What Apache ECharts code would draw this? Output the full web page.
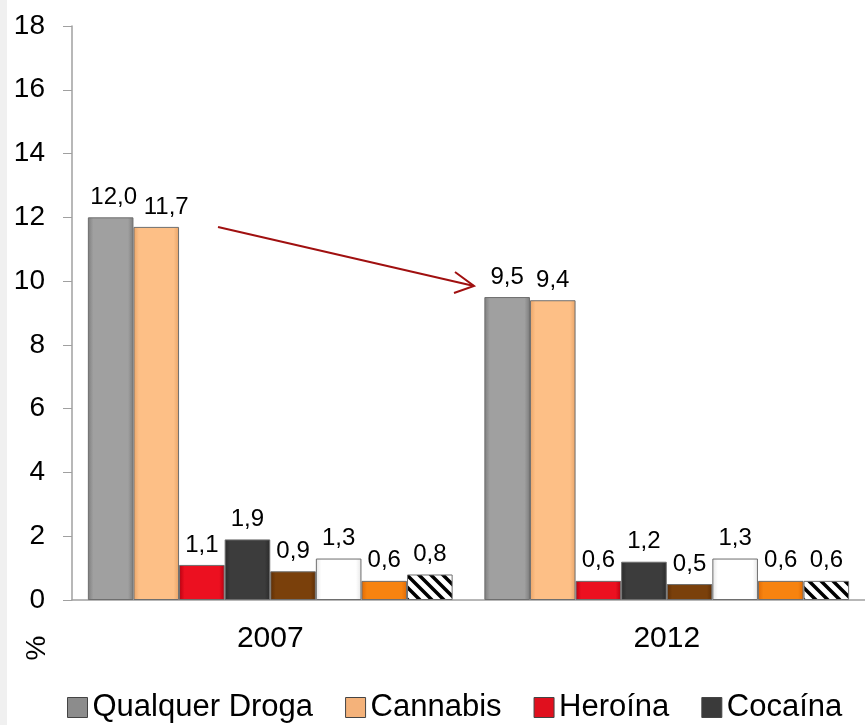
<!DOCTYPE html>
<html>
<head>
<meta charset="utf-8">
<script src="https://cdn.jsdelivr.net/npm/echarts@6/dist/echarts.min.js"></script>
<style>
  html, body { margin: 0; padding: 0; background: #fff; }
  #chart { width: 865px; height: 725px; }
</style>
</head>
<body>
<div id="chart"></div>
<script>
// categorias e valores (%)
var anos = ['2007', '2012'];
var seriesNames = ['Qualquer Droga', 'Cannabis', 'Heroína', 'Cocaína', 'Série 5', 'Série 6', 'Série 7', 'Série 8'];
var qualquerDroga = [12.0, 9.5];
var cannabis = [11.7, 9.4];
var heroina = [1.1, 0.6];
var cocaina = [1.9, 1.2];
var serie5 = [0.9, 0.5];
var serie6 = [1.3, 1.3];
var serie7 = [0.6, 0.6];
var serie8 = [0.8, 0.6];
var yTicks = [0, 2, 4, 6, 8, 10, 12, 14, 16, 18];

var valores = [qualquerDroga, cannabis, heroina, cocaina, serie5, serie6, serie7, serie8];

// padrão listrado para a última série
function makeStripes() {
  var c = document.createElement('canvas');
  c.width = 12; c.height = 12;
  var ctx = c.getContext('2d');
  ctx.fillStyle = '#ffffff';
  ctx.fillRect(0, 0, 12, 12);
  ctx.strokeStyle = '#000000';
  ctx.lineWidth = 3.5;
  ctx.beginPath();
  for (var k = -12; k <= 24; k += 12) {
    ctx.moveTo(k - 6, -6);
    ctx.lineTo(k + 18, 18);
  }
  ctx.stroke();
  return c;
}

function bevel(edge, mid) {
  return {
    type: 'linear', x: 0, y: 0, x2: 1, y2: 0,
    colorStops: [
      { offset: 0, color: edge },
      { offset: 0.12, color: mid },
      { offset: 0.88, color: mid },
      { offset: 1, color: edge }
    ]
  };
}

var cores = [
  bevel('#7d7d7d', '#a0a0a0'),
  bevel('#e9a468', '#fdbf86'),
  bevel('#b80010', '#ec1020'),
  bevel('#2a2a2a', '#3c3c3c'),
  bevel('#5e2e05', '#7a400b'),
  bevel('#e6e6e6', '#ffffff'),
  bevel('#e06a05', '#f7830f'),
  { image: makeStripes(), repeat: 'repeat' }
];
var legendCores = ['#8c8c8c', '#f4b27a', '#e0101e', '#3a3a3a', '#7a400b', '#ffffff', '#f7830f', '#000000'];

var series = seriesNames.map(function (name, i) {
  return {
    name: name,
    type: 'bar',
    // rótulo de Cannabis 2007 deslocado para não sobrepor o de 12,0
    data: valores[i].map(function (v, j) {
      if (i === 1 && j === 0) return { value: v, label: { offset: [10, 0] } };
      if (i === 0 && j === 0) return { value: v, label: { offset: [3, 0] } };
      return v;
    }),
    barGap: '0%',
    barCategoryGap: '8%',
    itemStyle: { color: cores[i], borderColor: '#6e6e6e', borderWidth: 1 },
    label: {
      show: true,
      position: 'top',
      distance: 8,
      color: '#000',
      fontSize: 24,
      fontFamily: 'Liberation Sans',
      formatter: function (p) { return p.value.toFixed(1).replace('.', ','); }
    }
  };
});

var chart = echarts.init(document.getElementById('chart'));
chart.setOption({
  animation: false,
  backgroundColor: '#ffffff',
  grid: { left: 72, top: 26, bottom: 125, width: 806 },
  legend: {
    data: seriesNames.slice(0, 4).map(function (n, i) {
      return { name: n, itemStyle: { color: legendCores[i], borderColor: '#444', borderWidth: 1 } };
    }),
    left: 67,
    top: 692,
    padding: 0,
    icon: 'rect',
    itemWidth: 20,
    itemHeight: 20,
    itemGap: 32,
    textStyle: { fontSize: 31, fontFamily: 'Liberation Sans', color: '#000' }
  },
  xAxis: {
    type: 'category',
    data: anos,
    axisLine: { lineStyle: { color: '#a0a0a0', width: 1.5 } },
    axisTick: { show: false },
    axisLabel: { fontSize: 30, fontFamily: 'Liberation Sans', color: '#000', margin: 24 }
  },
  yAxis: {
    type: 'value',
    min: yTicks[0],
    max: yTicks[yTicks.length - 1],
    interval: 2,
    splitLine: { show: false },
    axisLine: { show: true, lineStyle: { color: '#a0a0a0', width: 1.5 } },
    axisTick: { show: true, length: 9, lineStyle: { color: '#a0a0a0' } },
    axisLabel: { fontSize: 28, fontFamily: 'Liberation Sans', color: '#000', margin: 27 }
  },
  graphic: [
    { type: 'rect', left: 0, top: 0, shape: { width: 7, height: 725 }, style: { fill: '#f0f0f0' } },
    {
      type: 'text', x: 37, y: 648, rotation: Math.PI / 2,
      style: { text: '%', fontSize: 28, fontFamily: 'Liberation Sans', fill: '#000', align: 'center', verticalAlign: 'middle' }
    },
    {
      type: 'line', shape: { x1: 218, y1: 227, x2: 474, y2: 286 },
      style: { stroke: '#a01010', lineWidth: 2 }
    },
    {
      type: 'polyline', shape: { points: [[455, 272], [474, 286], [454, 293]] },
      style: { stroke: '#a01010', lineWidth: 2, fill: null }
    }
  ],
  series: series
});
</script>
</body>
</html>
